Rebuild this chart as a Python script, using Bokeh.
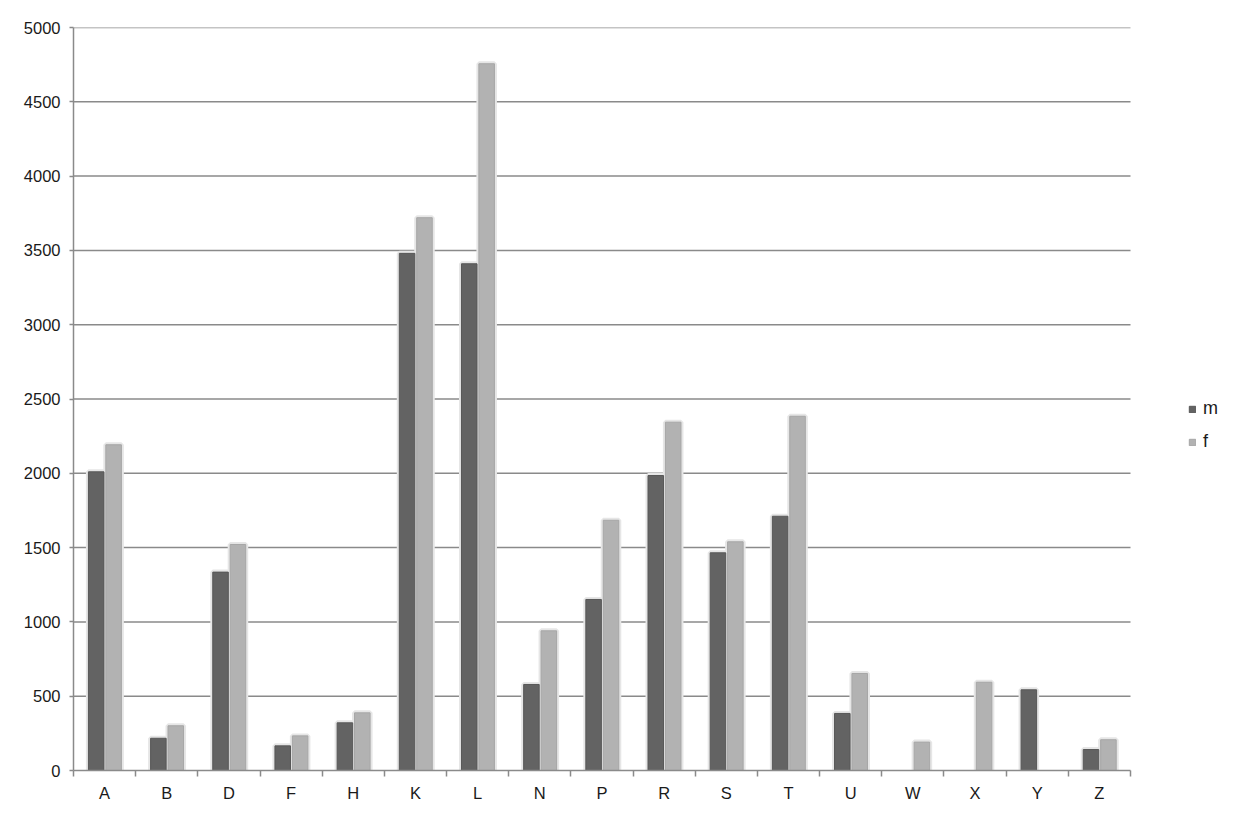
from bokeh.plotting import figure
from bokeh.models import ColumnDataSource, FixedTicker, Legend, LegendItem
from bokeh.transform import dodge
from bokeh.embed import file_html
from bokeh.resources import INLINE

nan = float("nan")
categories = ["A", "B", "D", "F", "H", "K", "L", "N", "P", "R", "S", "T", "U", "W", "X", "Y", "Z"]
m_values = [2010, 217, 1335, 166, 321, 3480, 3410, 579, 1151, 1985, 1465, 1711, 384, nan, nan, 543, 141]
f_values = [2192, 301, 1521, 233, 388, 3720, 4756, 940, 1684, 2344, 1539, 2384, 653, 191, 594, nan, 207]
y_ticks = list(range(0, 5001, 500))

n = len(categories)
centers = [i + 0.5 for i in range(n)]
src = ColumnDataSource(dict(x=centers, m=m_values, f=f_values))

FONT = "Liberation Sans"
AXIS_GRAY = "#8a8a8a"

# frame: left 73, right edge of categories at 1130 (62.18 px per category)
FRAME_LEFT = 73
FIG_W = 1230
FRAME_W = FIG_W - FRAME_LEFT - 2
X_END = FRAME_W / ((1130 - FRAME_LEFT) / n)

p = figure(width=FIG_W, height=810, output_backend="svg", toolbar_location=None,
           x_range=(0, X_END), y_range=(0, 5000),
           min_border_left=FRAME_LEFT, min_border_right=2, min_border_top=27, min_border_bottom=40)
p.outline_line_color = None
p.background_fill_color = "white"
p.border_fill_color = "white"
p.xgrid.grid_line_color = None
p.ygrid.grid_line_color = None

# horizontal gridlines across the category span only
p.segment(x0=0, x1=n, y0=y_ticks[1:], y1=y_ticks[1:], line_color=AXIS_GRAY, line_width=1.5)

BW = 0.25
OFF_M, OFF_F = -0.135, 0.145
for key, off in (("m", OFF_M), ("f", OFF_F)):
    p.vbar(x=dodge("x", off), top=key, width=BW, bottom=0, source=src,
           fill_color="white", line_color="#e6e6e6", line_width=5)
rm = p.vbar(x=dodge("x", OFF_M), top="m", width=BW, bottom=0, source=src,
            fill_color="#636363", line_color="#575757", line_width=1)
rf = p.vbar(x=dodge("x", OFF_F), top="f", width=BW, bottom=0, source=src,
            fill_color="#b2b2b2", line_color="#a6a6a6", line_width=1)

# y axis
p.yaxis.ticker = FixedTicker(ticks=y_ticks)
p.yaxis.axis_line_color = AXIS_GRAY
p.yaxis.axis_line_width = 1.5
p.yaxis.major_tick_line_color = AXIS_GRAY
p.yaxis.major_tick_line_width = 1.5
p.yaxis.major_tick_out = 4
p.yaxis.major_tick_in = 0
p.yaxis.minor_tick_line_color = None
p.yaxis.major_label_text_font = FONT
p.yaxis.major_label_text_font_size = "16.5px"
p.yaxis.major_label_text_color = "#1a1a1a"
p.yaxis.major_label_standoff = 9

# x axis: labels at centers, ticks at category boundaries
p.xaxis.ticker = FixedTicker(ticks=centers, minor_ticks=list(range(n + 1)))
p.xaxis.bounds = (0, n)
p.xaxis.major_label_overrides = {c: lab for c, lab in zip(centers, categories)}
p.xaxis.axis_line_color = AXIS_GRAY
p.xaxis.axis_line_width = 1.5
p.xaxis.major_tick_line_color = None
p.xaxis.minor_tick_line_color = AXIS_GRAY
p.xaxis.minor_tick_line_width = 1.5
p.xaxis.minor_tick_out = 6
p.xaxis.minor_tick_in = 0
p.xaxis.major_label_text_font = FONT
p.xaxis.major_label_text_font_size = "16.5px"
p.xaxis.major_label_text_color = "#1a1a1a"
p.xaxis.major_label_standoff = 7

legend = Legend(items=[LegendItem(label="m", renderers=[rm]), LegendItem(label="f", renderers=[rf])],
                location=(1115, 318), orientation="vertical")
legend.glyph_width = 8
legend.glyph_height = 8
legend.label_height = 20
legend.spacing = 12
legend.padding = 0
legend.margin = 0
legend.label_standoff = 7
legend.label_text_font = FONT
legend.label_text_font_size = "18px"
legend.label_text_color = "#1a1a1a"
legend.border_line_color = None
legend.background_fill_alpha = 0
p.add_layout(legend, "center")

open("out.html", "w").write(file_html(p, INLINE))
